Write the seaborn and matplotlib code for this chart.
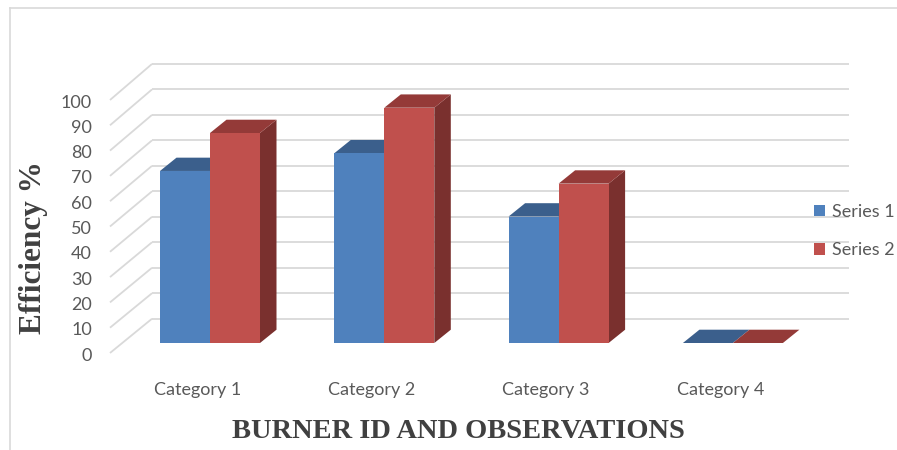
import matplotlib
matplotlib.use("Agg")
import matplotlib.pyplot as plt
import numpy as np
import pandas as pd
import seaborn as sns
from matplotlib.patches import Polygon
from matplotlib.lines import Line2D

# ---------------- data ----------------
categories = ["Category 1", "Category 2", "Category 3", "Category 4"]
series_names = ["Series 1", "Series 2"]
series1 = [68, 75, 50, 0]
series2 = [83, 93, 63, 0]
y_ticks = [0, 10, 20, 30, 40, 50, 60, 70, 80, 90, 100]
x_title = "BURNER ID AND OBSERVATIONS"
y_title = "Efficiency %"

# ---------------- style ----------------
BLUE, BLUE_TOP, BLUE_SIDE = "#4F81BD", "#3B5F8C", "#2F4D73"
RED, RED_TOP, RED_SIDE = "#C0504D", "#943A38", "#7A302E"
GRID = "#D9D9D9"
TXT = "#595959"
TITLE = "#404040"

W, H = 897, 450
X0, SX = 210.0, 174.3    # pixel of first category centre, pixels per category
Y0, SY = 343.0, 2.53     # pixel of value 0 on bar plane, pixels per unit


def px_x(p):
    return (p - X0) / SX


def px_y(p):
    return (Y0 - p) / SY


DEPTH_DX, DEPTH_DY = 16.5 / SX, 13.3 / SY          # bar depth
FRONT_DX, FRONT_DY = -12.5 / SX, -3.95              # front plane offset
BACK_DY, BACK_SCALE = 9.6, 1.007                     # back wall mapping
BACK_X0, BACK_X1 = px_x(152), px_x(849)
FRONT_X = px_x(110)

df = pd.DataFrame({
    "category": categories * 2,
    "value": series1 + series2,
    "series": [series_names[0]] * len(categories) + [series_names[1]] * len(categories),
})

fig = plt.figure(figsize=(W / 100, H / 100), dpi=100)
ax = fig.add_axes([0, 0, 1, 1])
ax.set_facecolor("none")

sns.barplot(data=df, x="category", y="value", hue="series",
            palette=[BLUE, RED], saturation=1, width=100 / SX,
            errorbar=None, linewidth=0, ax=ax, zorder=3)

# 3D faces
shades = [(BLUE_TOP, BLUE_SIDE), (RED_TOP, RED_SIDE)]
for cont, (ctop, cside) in zip(ax.containers, shades):
    for bar in cont:
        x, w, h = bar.get_x(), bar.get_width(), bar.get_height()
        top = Polygon([(x, h), (x + w, h), (x + w + DEPTH_DX, h + DEPTH_DY),
                       (x + DEPTH_DX, h + DEPTH_DY)], closed=True,
                      facecolor=ctop, edgecolor="none", zorder=2.5)
        side = Polygon([(x + w, 0), (x + w, h), (x + w + DEPTH_DX, h + DEPTH_DY),
                        (x + w + DEPTH_DX, DEPTH_DY)], closed=True,
                       facecolor=cside, edgecolor="none", zorder=2.5)
        ax.add_patch(side)
        ax.add_patch(top)

# back wall grid + side diagonals
for v in y_ticks:
    yb = v * BACK_SCALE + BACK_DY
    yf = v + FRONT_DY
    ax.plot([BACK_X0, BACK_X1], [yb, yb], color=GRID, lw=1.3, zorder=1,
            solid_capstyle="butt")
    ax.plot([FRONT_X, BACK_X0], [yf, yb], color=GRID, lw=1.3, zorder=1,
            solid_capstyle="butt")

ax.set_xlim(px_x(0), px_x(W))
ax.set_ylim(px_y(H), px_y(0))

# ticks
for s in ax.spines.values():
    s.set_visible(False)
ax.spines["left"].set_position(("data", FRONT_X))
ax.spines["bottom"].set_position(("data", FRONT_DY))
ax.set_yticks([v + FRONT_DY - 0.4 for v in y_ticks], labels=[str(v) for v in y_ticks])
ax.set_xticks([i + FRONT_DX for i in range(len(categories))], labels=categories)
ax.tick_params(axis="y", length=0, pad=13, labelsize=13, labelcolor=TXT)
ax.tick_params(axis="x", length=0, pad=21, labelsize=13, labelcolor=TXT)
for lbl in ax.get_xticklabels() + ax.get_yticklabels():
    lbl.set_fontfamily("Lato")

# axis titles
ax.set_xlabel(x_title, fontfamily="Liberation Serif", fontweight="bold",
              fontsize=20.5, color=TITLE)
ax.xaxis.set_label_coords(458 / W, 1 - 432 / H)
ax.xaxis.label.set_va("center")
ax.set_ylabel(y_title, fontfamily="Liberation Serif", fontweight="bold",
              fontsize=22.5, color=TITLE)
ax.yaxis.set_label_coords(33 / W, 1 - 247.5 / H)
ax.yaxis.label.set_va("center")

# legend
sns.move_legend(ax, "center left", bbox_to_anchor=(814 / W, 1 - 231 / H),
                bbox_transform=fig.transFigure, frameon=False, title=None,
                handlelength=0.6, handleheight=0.6, handletextpad=0.4,
                labelspacing=1.25, fontsize=13, borderpad=0, borderaxespad=0)
for t in ax.get_legend().get_texts():
    t.set_color(TXT)
    t.set_fontfamily("Lato")

# chart border (top and left edges only are visible)
fig.lines.append(Line2D([10 / W, 1.0], [1 - 8 / H, 1 - 8 / H],
                        transform=fig.transFigure, color=GRID, lw=1.2))
fig.lines.append(Line2D([10 / W, 10 / W], [0.0, 1 - 8 / H],
                        transform=fig.transFigure, color=GRID, lw=1.2))

fig.savefig("out.png", dpi=100, facecolor="white")
